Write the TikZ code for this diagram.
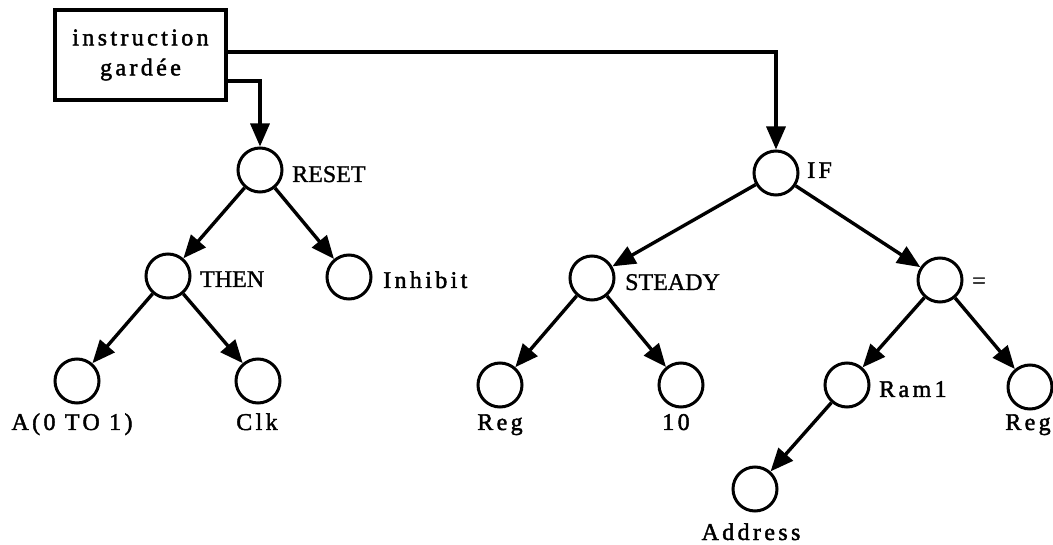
\documentclass[tikz,border=0pt]{standalone}
\usepackage{fontspec}
\setmainfont{Liberation Serif}[FakeBold=1.2]
\newfontfamily\spaced[LetterSpace=14,FakeBold=1.8]{Liberation Serif}
\usetikzlibrary{arrows.meta}
\begin{document}
\begin{tikzpicture}[x=1pt,y=-1pt,
  nd/.style={circle,draw,line width=3pt,minimum size=44pt,inner sep=0pt},
  arr/.style={line width=3.4pt,-{Triangle[length=23pt,width=19pt]}},
  lbl/.style={font=\fontsize{24}{28}\selectfont,inner sep=0pt},
  slbl/.style={font=\spaced\fontsize{24}{28}\selectfont,inner sep=0pt},
  boxst/.style={draw,line width=3.4pt,minimum width=171pt,minimum height=90pt,inner sep=0pt,align=center,font=\spaced\fontsize{24}{30}\selectfont}]
\useasboundingbox (0,0) rectangle (1053,545);
\node[boxst] (box) at (140.5,55) {instruction\\gardée};
% circles
\node[nd] (reset) at (260,170) {};
\node[nd] (then) at (168,276) {};
\node[nd] (inhibit) at (349,277) {};
\node[nd] (a) at (77,381) {};
\node[nd] (clk) at (258,381) {};
\node[nd] (if) at (776,173) {};
\node[nd] (steady) at (592,278) {};
\node[nd] (eq) at (940,280) {};
\node[nd] (reg1) at (500,385) {};
\node[nd] (ten) at (681,385) {};
\node[nd] (ram) at (847,385) {};
\node[nd] (reg2) at (1030,387) {};
\node[nd] (addr) at (755,489) {};
% labels
\node[lbl,anchor=base west] (lreset) at (292,182) {RESET};
\node[lbl,anchor=base west] (lthen) at (200,287) {THEN};
\node[slbl,anchor=base west] (linhibit) at (383,288) {Inhibit};
\node[slbl,anchor=base] (la) at (72,430) {A(0 TO 1)};
\node[slbl,anchor=base] (lclk) at (257,430) {Clk};
\node[slbl,anchor=base west] (lif) at (807,178) {IF};
\node[lbl,anchor=base west] (lsteady) at (625,290) {STEADY};
\node[lbl,anchor=west] (leq) at (972,283) {=};
\node[slbl,anchor=base] (lreg1) at (500,430) {Reg};
\node[slbl,anchor=base] (lten) at (676,430) {10};
\node[slbl,anchor=base west] (lram) at (879,397) {Ram1};
\node[slbl,anchor=base] (lreg2) at (1028,430) {Reg};
\node[slbl,anchor=base] (laddr) at (751,540) {Address};
% connectors
\draw[arr] ([yshift=3pt]box.east) -| (if);
\draw[arr] ([yshift=-26pt]box.east) -| (reset);
\draw[arr] (reset) -- (then);
\draw[arr] (reset) -- (inhibit);
\draw[arr] (then) -- (a);
\draw[arr] (then) -- (clk);
\draw[arr] (if) -- (steady);
\draw[arr] (if) -- (eq);
\draw[arr] (steady) -- (reg1);
\draw[arr] (steady) -- (ten);
\draw[arr] (eq) -- (ram);
\draw[arr] (eq) -- (reg2);
\draw[arr] (ram) -- (addr);
\end{tikzpicture}
\end{document}
